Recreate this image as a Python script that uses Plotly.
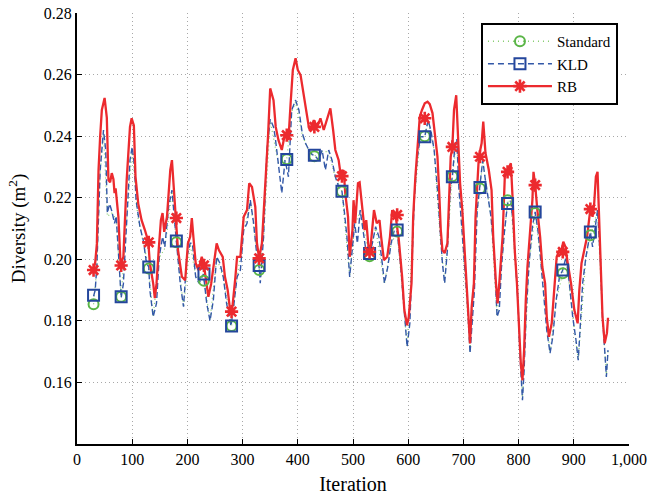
import plotly.graph_objects as go

# ---------------- data ----------------
rb_iter = [30, 33, 36, 39, 42, 45, 50, 54, 57, 60, 63, 66, 68, 70, 75, 79, 84, 90, 96, 99,
           103, 106, 111, 117, 123, 129, 132, 138, 141, 144, 148, 152, 155, 158, 163, 166, 169, 172, 175, 179,
           183, 190, 196, 201, 205, 208, 211, 215, 220, 226, 230, 234, 238, 243, 249, 253, 257, 264, 268, 273,
           278, 281, 287, 290, 296, 302, 308, 312, 317, 323, 326, 330, 335, 341, 346, 350, 356, 360, 365, 371,
           377, 380, 383, 387, 391, 396, 400, 405, 410, 414, 420, 422, 429, 435, 441, 447, 453, 459, 464, 468,
           474, 478, 483, 486, 491, 494, 499, 501, 504, 509, 512, 517, 521, 524, 529, 531, 535, 538, 543, 548,
           551, 556, 562, 567, 571, 573, 577, 583, 589, 593, 598, 601, 606, 609, 613, 617, 621, 625, 630, 635,
           639, 644, 648, 653, 656, 659, 662, 666, 671, 674, 677, 680, 683, 687, 690, 694, 698, 704, 708, 712,
           715, 719, 722, 728, 733, 736, 740, 746, 751, 754, 759, 762, 765, 768, 771, 775, 779, 783, 786, 789,
           793, 797, 801, 804, 807, 810, 813, 816, 821, 825, 827, 830, 834, 839, 843, 848, 851, 855, 860, 864,
           869, 874, 877, 881, 885, 889, 895, 901, 907, 910, 914, 919, 924, 930, 934, 937, 940, 943, 946, 949,
           952, 956, 960, 962]
rb_val = [0.1965, 0.199, 0.205, 0.229, 0.240, 0.2485, 0.2524, 0.246, 0.2257, 0.225, 0.228, 0.226, 0.2215, 0.223, 0.2138, 0.198, 0.2008, 0.2257, 0.243, 0.2458,
          0.2435, 0.2268, 0.218, 0.2127, 0.2095, 0.2059, 0.1987, 0.1922, 0.1874, 0.192, 0.203, 0.2127, 0.215, 0.2089, 0.2138, 0.2203, 0.229, 0.2322, 0.2225, 0.2134,
          0.203, 0.1943, 0.1932, 0.2052, 0.2073, 0.2134, 0.207, 0.1987, 0.1965, 0.2008, 0.198, 0.1932, 0.1878, 0.192, 0.2008, 0.2052, 0.203, 0.2008, 0.1943, 0.190,
          0.1825, 0.1835, 0.1943, 0.2008, 0.2008, 0.2138, 0.216, 0.2247, 0.2235, 0.217, 0.2052, 0.2003, 0.2052, 0.2225, 0.2398, 0.2555, 0.2517, 0.243, 0.2387, 0.2355,
          0.241, 0.2403, 0.2387, 0.2507, 0.2615, 0.2653, 0.2615, 0.2598, 0.254, 0.2485, 0.243, 0.2418, 0.2452, 0.243, 0.2458, 0.242, 0.2452, 0.249, 0.242, 0.2355,
          0.2322, 0.227, 0.229, 0.2215, 0.2138, 0.2008, 0.2095, 0.2192, 0.2117, 0.2247, 0.225, 0.217, 0.2095, 0.2127, 0.202, 0.2024, 0.2095, 0.216, 0.2117, 0.2127,
          0.2073, 0.1997, 0.2008, 0.2073, 0.216, 0.2138, 0.2144, 0.2063, 0.1943, 0.1835, 0.1786, 0.1813, 0.1922, 0.2138, 0.2268, 0.2377, 0.2463, 0.2485, 0.2507, 0.2512,
          0.2504, 0.2475, 0.241, 0.2333, 0.2225, 0.2095, 0.203, 0.202, 0.2052, 0.2203, 0.2333, 0.2365, 0.2485, 0.2533, 0.241, 0.2247, 0.216, 0.1975, 0.1846, 0.1727,
          0.1846, 0.1922, 0.2138, 0.2333, 0.2377, 0.2447, 0.2345, 0.229, 0.2225, 0.2073, 0.1922, 0.1857, 0.1922, 0.2008, 0.2073, 0.2268, 0.2284, 0.230, 0.2312, 0.2203,
          0.203, 0.1922, 0.176, 0.1662, 0.1607, 0.1705, 0.1867, 0.1975, 0.2095, 0.2192, 0.2284, 0.2241, 0.216, 0.2073, 0.1975, 0.1922, 0.1813, 0.1748, 0.1792, 0.190,
          0.2008, 0.203, 0.2024, 0.2057, 0.204, 0.1987, 0.1922, 0.1835, 0.1792, 0.190, 0.1987, 0.203, 0.2073, 0.2163, 0.2138, 0.2182, 0.2268, 0.2284, 0.2117, 0.1922,
          0.1813, 0.1727, 0.176, 0.181]

kld_iter = [30, 33, 36, 42, 48, 52, 55, 59, 63, 68, 71, 75, 80, 84, 90, 96, 100, 104, 107, 114,
            120, 126, 130, 132, 138, 144, 149, 155, 159, 166, 172, 177, 180, 187, 193, 199, 205, 209, 215, 221,
            229, 235, 241, 247, 253, 259, 265, 271, 279, 283, 290, 296, 302, 308, 314, 320, 326, 330, 332, 338,
            344, 350, 356, 359, 365, 371, 377, 383, 389, 396, 402, 408, 414, 420, 426, 430, 438, 444, 450, 456,
            462, 468, 474, 480, 484, 489, 494, 499, 503, 508, 513, 519, 525, 530, 535, 541, 547, 553, 557, 563,
            569, 575, 580, 586, 591, 595, 598, 603, 607, 611, 616, 622, 630, 636, 641, 647, 653, 658, 662, 666,
            671, 676, 680, 685, 688, 692, 698, 704, 708, 712, 716, 720, 725, 730, 735, 739, 744, 750, 756, 761,
            765, 769, 774, 780, 786, 790, 795, 799, 802, 807, 810, 814, 819, 825, 830, 835, 840, 845, 851, 857,
            862, 868, 874, 880, 886, 892, 898, 904, 908, 912, 916, 922, 930, 934, 939, 943, 948, 952, 956, 959,
            962]
kld_val = [0.188, 0.190, 0.198, 0.229, 0.242, 0.2355, 0.215, 0.218, 0.2157, 0.2117, 0.214, 0.2008, 0.1875, 0.192, 0.214, 0.2322, 0.2365, 0.2303, 0.2192, 0.2106,
           0.2062, 0.1987, 0.1975, 0.190, 0.1813, 0.1857, 0.2008, 0.2073, 0.204, 0.217, 0.2225, 0.2106, 0.2059, 0.1922, 0.1846, 0.2008, 0.2052, 0.2052, 0.1943, 0.1922,
           0.1952, 0.1857, 0.180, 0.1867, 0.2008, 0.1987, 0.1943, 0.1857, 0.1783, 0.1835, 0.1943, 0.1965, 0.2095, 0.2117, 0.2192, 0.2117, 0.2008, 0.1975, 0.1922, 0.2073,
           0.2355, 0.2455, 0.243, 0.2398, 0.2312, 0.2215, 0.2322, 0.2268, 0.2485, 0.2517, 0.2485, 0.241, 0.2377, 0.2355, 0.234, 0.2338, 0.2322, 0.2355, 0.229, 0.2355,
           0.2322, 0.2268, 0.2236, 0.2221, 0.216, 0.2073, 0.1943, 0.203, 0.2117, 0.2052, 0.216, 0.2084, 0.2008, 0.2019, 0.2052, 0.2106, 0.2073, 0.1987, 0.1922, 0.1975,
           0.2052, 0.2095, 0.209, 0.1987, 0.1867, 0.178, 0.1716, 0.1792, 0.1975, 0.2192, 0.2322, 0.2398, 0.2398, 0.2452, 0.242, 0.2355, 0.2225, 0.2073, 0.1987, 0.1922,
           0.203, 0.2225, 0.2268, 0.2377, 0.239, 0.2225, 0.2073, 0.1955, 0.184, 0.1695, 0.1813, 0.190, 0.216, 0.2233, 0.2322, 0.2268, 0.2215, 0.2138, 0.2008, 0.1813,
           0.1835, 0.1975, 0.2084, 0.2181, 0.219, 0.2117, 0.1975, 0.1857, 0.1705, 0.1542, 0.164, 0.1835, 0.1987, 0.2106, 0.2154, 0.2095, 0.1997, 0.1889, 0.177, 0.1695,
           0.1748, 0.1867, 0.1943, 0.1965, 0.2008, 0.1922, 0.1813, 0.1737, 0.1672, 0.1792, 0.1922, 0.2008, 0.2089, 0.204, 0.2117, 0.216, 0.2008, 0.1813, 0.1705, 0.1618,
           0.1705]

std_iter = [30, 36, 42, 48, 55, 63, 71, 80, 90, 100, 110, 120, 130, 138, 149, 159, 172, 180, 193, 205,
            215, 230, 241, 253, 265, 280, 290, 302, 314, 330, 338, 350, 365, 380, 389, 396, 408, 420, 430, 444,
            456, 468, 480, 494, 503, 513, 530, 541, 557, 569, 580, 591, 598, 611, 622, 630, 636, 647, 658, 666,
            680, 688, 698, 712, 725, 730, 735, 750, 761, 769, 780, 786, 799, 807, 819, 830, 840, 857, 868, 880,
            886, 898, 908, 922, 930, 943, 952, 959, 962]
std_val = [0.1854, 0.197, 0.228, 0.241, 0.214, 0.215, 0.213, 0.1878, 0.213, 0.236, 0.214, 0.2055, 0.197, 0.1815, 0.2005, 0.2035, 0.222, 0.2055, 0.1845, 0.205,
           0.1945, 0.193, 0.1805, 0.2005, 0.194, 0.1783, 0.194, 0.209, 0.219, 0.1965, 0.2065, 0.245, 0.231, 0.2325, 0.248, 0.251, 0.2405, 0.235, 0.2335, 0.235,
           0.235, 0.2265, 0.222, 0.1945, 0.211, 0.2155, 0.201, 0.21, 0.192, 0.205, 0.209, 0.1865, 0.1718, 0.219, 0.2395, 0.240, 0.245, 0.2355, 0.207, 0.1925,
           0.227, 0.2385, 0.207, 0.1698, 0.2155, 0.223, 0.232, 0.2135, 0.1815, 0.1975, 0.2192, 0.2185, 0.1858, 0.1545, 0.1985, 0.215, 0.1995, 0.1697, 0.1865, 0.1955,
           0.2005, 0.1815, 0.1675, 0.2005, 0.2078, 0.2155, 0.1815, 0.162, 0.1705]

mk_iter = [30, 80, 130, 180, 230, 280, 330, 380, 430, 480, 530, 580, 630, 680, 730, 780, 830, 880, 930]
rb_mk = [0.1965, 0.198, 0.2055, 0.2134, 0.198, 0.183, 0.2003, 0.2403, 0.243, 0.227, 0.2024, 0.2144, 0.2458, 0.2365, 0.2333, 0.2284, 0.2241, 0.2024, 0.2163]
kld_mk = [0.1883, 0.1878, 0.1975, 0.2059, 0.1952, 0.1783, 0.198, 0.2324, 0.2338, 0.2221, 0.2019, 0.2095, 0.2398, 0.2268, 0.2233, 0.2181, 0.2154, 0.1965, 0.2089]
std_mk = [0.1854, 0.1878, 0.197, 0.2055, 0.193, 0.1783, 0.1965, 0.2325, 0.2335, 0.222, 0.201, 0.209, 0.240, 0.227, 0.223, 0.2192, 0.215, 0.1955, 0.2078]

x_ticks = [0, 100, 200, 300, 400, 500, 600, 700, 800, 900, 1000]
y_ticks = [0.16, 0.18, 0.20, 0.22, 0.24, 0.26, 0.28]

# ---------------- styles ----------------
GREEN_L = "#86cc6e"
GREEN_M = "#5ab547"
BLUE_L = "#3358a8"
BLUE_M = "#24469c"
RED = "#ec2a2e"
FONT = "Liberation Serif"

fig = go.Figure()

# lines
fig.add_trace(go.Scatter(x=std_iter, y=std_val, mode="lines", showlegend=False,
                         line=dict(color=GREEN_L, width=1.2, dash="1px,3px")))
fig.add_trace(go.Scatter(x=kld_iter, y=kld_val, mode="lines", showlegend=False,
                         line=dict(color=BLUE_L, width=1.4, dash="6px,3px")))
fig.add_trace(go.Scatter(x=rb_iter, y=rb_val, mode="lines", showlegend=False,
                         line=dict(color=RED, width=2.3)))
# markers
fig.add_trace(go.Scatter(x=mk_iter, y=std_mk, mode="markers", showlegend=False,
                         marker=dict(symbol="circle-open", size=10, color=GREEN_M, line=dict(width=2))))
fig.add_trace(go.Scatter(x=mk_iter, y=kld_mk, mode="markers", showlegend=False,
                         marker=dict(symbol="square-open", size=11, color=BLUE_M, line=dict(width=2))))
fig.add_trace(go.Scatter(x=mk_iter, y=rb_mk, mode="markers", showlegend=False,
                         marker=dict(symbol="asterisk-open", size=11, color=RED, line=dict(width=2.6, color=RED))))

# legend entries
fig.add_trace(go.Scatter(x=[None], y=[None], mode="lines+markers", name="Standard",
                         line=dict(color=GREEN_L, width=1.5, dash="1px,4px"),
                         marker=dict(symbol="circle-open", size=10, color=GREEN_M, line=dict(width=2))))
fig.add_trace(go.Scatter(x=[None], y=[None], mode="lines+markers", name="KLD",
                         line=dict(color=BLUE_L, width=1.5, dash="6px,4px"),
                         marker=dict(symbol="square-open", size=11, color=BLUE_M, line=dict(width=2))))
fig.add_trace(go.Scatter(x=[None], y=[None], mode="lines+markers", name="RB",
                         line=dict(color=RED, width=2.3),
                         marker=dict(symbol="asterisk-open", size=11, color=RED, line=dict(width=2.6, color=RED))))

axis_common = dict(
    showline=True, linecolor="black", linewidth=2, mirror=False,
    ticks="inside", ticklen=5, tickcolor="black", tickwidth=1,
    showgrid=True, gridcolor="#a8a8a8", gridwidth=1, griddash="1px,3px",
    zeroline=False, automargin=False,
    tickfont=dict(family=FONT, size=16, color="black"),
)

fig.update_xaxes(range=[0, 1000], tickvals=x_ticks, tickformat=",d",
                 title=dict(text="Iteration", font=dict(family=FONT, size=20, color="black"), standoff=10),
                 **axis_common)
fig.update_yaxes(range=[0.14, 0.28], tickvals=y_ticks, tickformat=".2f",
                 title=dict(text="Diversity (m<sup>2</sup>)", font=dict(family=FONT, size=19, color="black"), standoff=13),
                 **axis_common)

fig.update_layout(
    width=661, height=497,
    margin=dict(l=77, r=32, t=13, b=53),
    paper_bgcolor="white", plot_bgcolor="white",
    font=dict(family=FONT, color="black"),
    legend=dict(x=0.98, y=0.977, xanchor="right", yanchor="top",
                bgcolor="white", bordercolor="black", borderwidth=2,
                font=dict(family=FONT, size=15, color="black"),
                itemwidth=64, tracegroupgap=0),
)

fig.write_html("out.html", config={"displayModeBar": False},
               post_script="document.body.style.margin='0px';document.body.style.overflow='hidden';")
